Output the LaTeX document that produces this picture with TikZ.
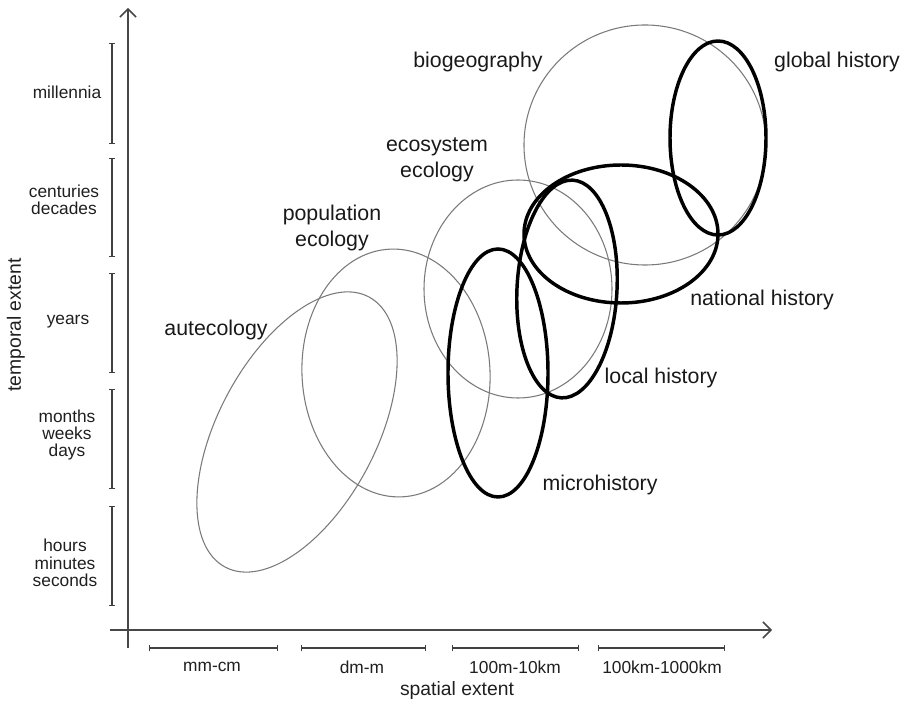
\documentclass[tikz,border=0pt]{standalone}
\usepackage{fontspec}
\setmainfont{Liberation Sans}
\usetikzlibrary{arrows.meta}

\begin{document}
\begin{tikzpicture}[x=0.75pt,y=-0.75pt,
  eco/.style={draw=black!52,line width=0.8pt},
  hist/.style={draw=black,line width=2.6pt},
  span/.style={{Bar[width=5pt]}-{Bar[width=5pt]},line width=1pt,black!75},
  axis/.style={-{Straight Barb[length=6pt,width=12pt]},line width=1.1pt,black!72},
  big/.style={font=\fontsize{16}{19.5}\selectfont,text=black!90,align=center},
  small/.style={font=\fontsize{13}{13.1}\selectfont,text=black!88,align=center}]
\useasboundingbox (0,0) rectangle (904,705);

% axes
\coordinate (ybot) at (128,648);
\coordinate (ytop) at (128,8);
\coordinate (xleft) at (110,630);
\coordinate (xright) at (772,630);
\draw[axis] (ybot) -- (ytop);
\draw[axis] (xleft) -- (xright);

% temporal scale
\draw[span] (112,43) -- (112,144);
\draw[span] (112,158) -- (112,257);
\draw[span] (112,273) -- (112,373);
\draw[span] (112,389) -- (112,489);
\draw[span] (112,506) -- (112,606);
\node[small] (mil) at (67,92) {millennia};
\node[small] (cent) at (64,200) {centuries\\decades};
\node[small] (yrs) at (68,322) {years};
\node[small] (mon) at (67,435) {months\\weeks\\days};
\node[small] (hrs) at (65,563) {hours\\minutes\\seconds};
\node[small,font=\fontsize{14.5}{15}\selectfont,rotate=90] (temp) at (16,325) {temporal extent};

% spatial scale
\draw[span] (149,648) -- (278,648);
\draw[span] (301,648) -- (426,648);
\draw[span] (452,648) -- (579,648);
\draw[span] (598,648) -- (725,648);
\node[small] (mmcm) at (212,667) {mm-cm};
\node[small] (dmm) at (362,667) {dm-m};
\node[small] (hmkm) at (515,667) {100m-10km};
\node[small] (hkm) at (662,667) {100km-1000km};
\node[small,font=\fontsize{14.5}{15}\selectfont] (spat) at (457,691) {spatial extent};

% ecology
\draw[eco,rotate around={62:(297,432)}] (297,432) ellipse [x radius=153, y radius=79];
\draw[eco,rotate around={3:(396,373)}] (396,373) ellipse [x radius=94, y radius=124];
\draw[eco] (518,289) ellipse [x radius=94, y radius=109];
\draw[eco] (645,145) ellipse [x radius=121, y radius=120];

% history
\draw[hist] (498,373) ellipse [x radius=50, y radius=124];
\draw[hist,rotate around={-3:(567,289)}] (567,289) ellipse [x radius=50, y radius=109];
\draw[hist] (621,234) ellipse [x radius=97, y radius=69];
\draw[hist] (718,138) ellipse [x radius=48, y radius=97];

\node[big] (autec) at (216,330) {autecology};
\node[big] (popul) at (332,228) {population\\ecology};
\node[big] (ecosys) at (437,160) {ecosystem\\ecology};
\node[big] (biogeo) at (478,62) {biogeography};
\node[big] (micro) at (600,485) {microhistory};
\node[big] (local) at (661,378) {local history};
\node[big] (nation) at (762,300) {national history};
\node[big] (global) at (837,62) {global history};
\end{tikzpicture}
\end{document}
